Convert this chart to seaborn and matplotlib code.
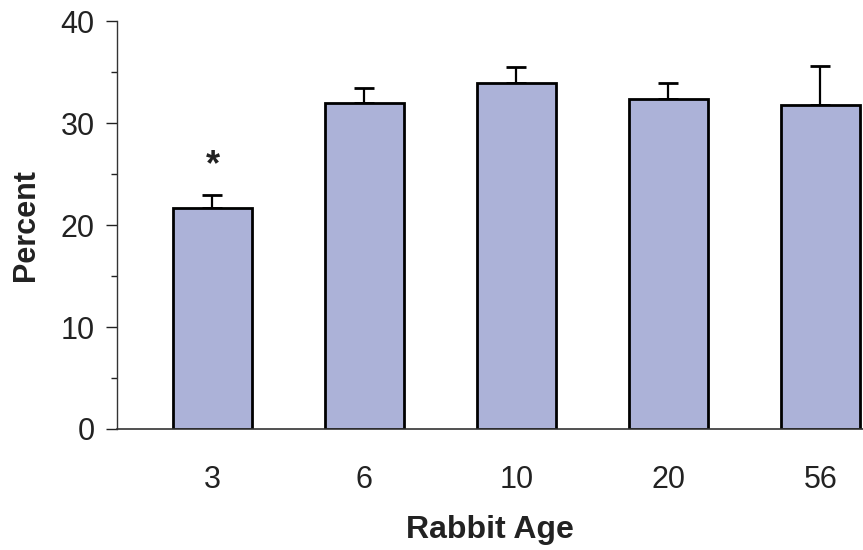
import matplotlib
matplotlib.use("Agg")
import matplotlib.pyplot as plt
import seaborn as sns
import pandas as pd
import numpy as np
from matplotlib.ticker import MultipleLocator

ages = ["3", "6", "10", "20", "56"]
percent = [21.7, 32.0, 33.9, 32.4, 31.8]
err_up = [1.2, 1.4, 1.6, 1.5, 3.8]
y_ticks = [0, 10, 20, 30, 40]

sns.set_theme(style="white")
plt.rcParams['font.family'] = ['Liberation Sans', 'DejaVu Sans']

df = pd.DataFrame({"age": ages, "pct": percent})

fig = plt.figure(figsize=(8.63, 5.5), dpi=100)
ax = fig.add_axes([0.1356, 0.22, 0.8644, 0.7418])

sns.barplot(data=df, x="age", y="pct", order=ages, color="#acb2d8",
            saturation=1, width=0.52, edgecolor="black", linewidth=2.0,
            errorbar=None, ax=ax, zorder=2)

xs = np.arange(len(ages))
ax.errorbar(xs, percent, yerr=[np.zeros(len(ages)), err_up], fmt="none",
            ecolor="black", elinewidth=1.6, capsize=7, capthick=2.0, zorder=1)

ax.text(0, 25.8, "*", ha="center", va="center", fontsize=26, fontweight="bold",
        color="#222222")

ax.set_xlim(-0.628, 4.28)
ax.set_ylim(0, 40)
ax.set_yticks(y_ticks)
ax.yaxis.set_minor_locator(MultipleLocator(5))
ax.tick_params(axis="y", which="major", direction="out", length=8, width=1.0,
               labelsize=22, pad=8, left=True, colors="#222222")
ax.tick_params(axis="y", which="minor", direction="out", length=4.5, width=1.0, left=True,
               colors="#222222")
ax.tick_params(axis="x", length=0, labelsize=22, pad=26, colors="#222222")

for s in ["top", "right"]:
    ax.spines[s].set_visible(False)
ax.spines["left"].set_color("#333333")
ax.spines["bottom"].set_color("#333333")
ax.spines["left"].set_linewidth(1.0)
ax.spines["bottom"].set_linewidth(1.2)

ax.set_xlabel("Rabbit Age", fontsize=23, fontweight="bold", labelpad=14, color="#222222")
ax.set_ylabel("Percent", fontsize=22, fontweight="bold", labelpad=14, color="#222222")

fig.savefig("out.png", dpi=100)
